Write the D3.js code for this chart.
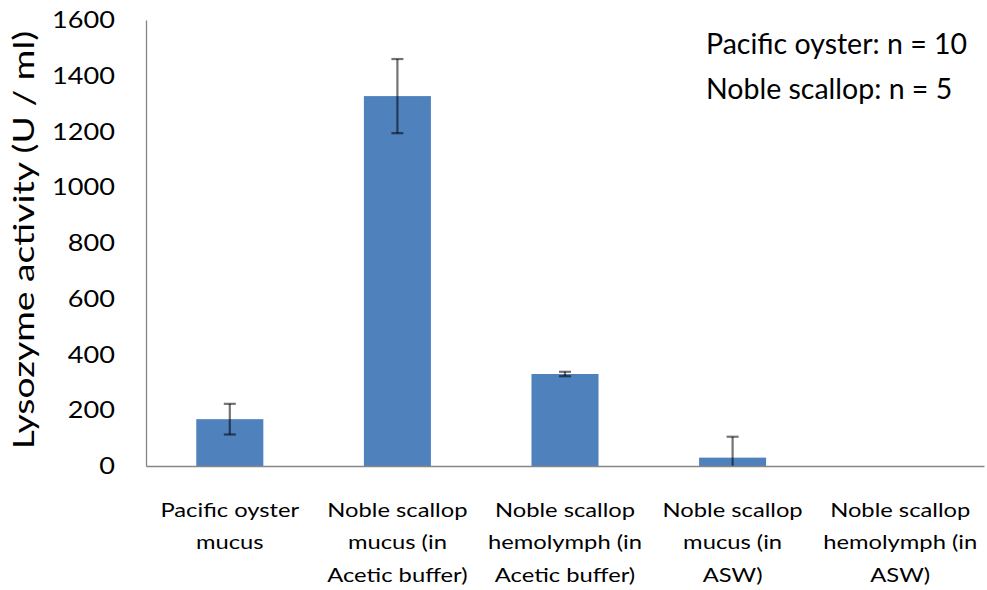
<!DOCTYPE html>
<html><head><meta charset="utf-8">
<script src="https://cdn.jsdelivr.net/npm/d3@7"></script>
<style>body{margin:0;background:#fff;} text{font-family:Lato, "Open Sans", sans-serif;fill:#000;}</style>
</head><body>
<svg id="c" width="987" height="590"></svg>
<script>
const categories = [
  ["Pacific oyster", "mucus"],
  ["Noble scallop", "mucus (in", "Acetic buffer)"],
  ["Noble scallop", "hemolymph (in", "Acetic buffer)"],
  ["Noble scallop", "mucus (in", "ASW)"],
  ["Noble scallop", "hemolymph (in", "ASW)"]
];
const values = [168, 1327, 330, 30, 0];
const errors = [55, 133, 8, 75, 0];
const yTicks = [0, 200, 400, 600, 800, 1000, 1200, 1400, 1600];
const notes = ["Pacific oyster: n = 10", "Noble scallop: n = 5"];
const yTitle = "Lysozyme activity (U / ml)";

const svg = d3.select("#c");
const L = 146, R = 984, T = 20, B = 466;
const x = d3.scaleBand().domain(d3.range(categories.length)).range([L, R]).paddingInner(0.6).paddingOuter(0.3);
const y = d3.scaleLinear().domain([0, 1600]).range([B, T]);

// bars
svg.selectAll("rect.bar").data(values).enter().append("rect")
  .attr("x", (d, i) => x(i)).attr("width", x.bandwidth())
  .attr("y", d => y(d)).attr("height", d => B - y(d))
  .attr("fill", "#4F81BD");

// error bars
const eg = svg.append("g").attr("stroke", "#000").attr("stroke-opacity", 0.55).attr("stroke-width", 2.2);
values.forEach((v, i) => {
  if (errors[i] <= 0) return;
  const cx = x(i) + x.bandwidth() / 2;
  const lo = Math.max(0, v - errors[i]), hi = v + errors[i];
  eg.append("line").attr("x1", cx).attr("x2", cx).attr("y1", y(lo)).attr("y2", y(hi));
  eg.append("line").attr("x1", cx - 6).attr("x2", cx + 6).attr("y1", y(hi)).attr("y2", y(hi));
  if (lo > 0) eg.append("line").attr("x1", cx - 6).attr("x2", cx + 6).attr("y1", y(lo)).attr("y2", y(lo));
});

// axes
const ya = svg.append("g").attr("transform", `translate(${L},0)`)
  .call(d3.axisLeft(y).tickValues(yTicks).tickFormat(d3.format("d")).tickSize(0).tickPadding(31));
ya.select(".domain").attr("stroke", "#868686").attr("stroke-width", 1.3);
ya.selectAll("text").attr("x", 0).attr("transform", "translate(-31,0) scale(1.13,1)")
  .style("font-size", "24px").style("font-family", "Lato");

const xa = svg.append("g").attr("transform", `translate(0,${B})`)
  .call(d3.axisBottom(x).tickSize(0).tickFormat(""));
xa.select(".domain").attr("stroke", "#868686").attr("stroke-width", 1.3);

// x labels
const lab = svg.append("g");
categories.forEach((lines, i) => {
  const cx = x(i) + x.bandwidth() / 2;
  const t = lab.append("text").attr("text-anchor", "middle")
    .attr("transform", `translate(${cx},0) scale(1.25,1)`).style("font-size", "19px");
  lines.forEach((s, j) => t.append("tspan").attr("x", 0).attr("y", 517 + j * 32.5).text(s));
});

// y title
svg.append("text").attr("transform", "translate(34,240) rotate(-90) scale(1.33,1)")
  .attr("text-anchor", "middle").style("font-size", "28px").text(yTitle);

// notes
notes.forEach((s, i) => svg.append("text").attr("x", 706).attr("y", 54 + i * 45)
  .style("font-size", "28.5px").text(s));
</script>
</body></html>
